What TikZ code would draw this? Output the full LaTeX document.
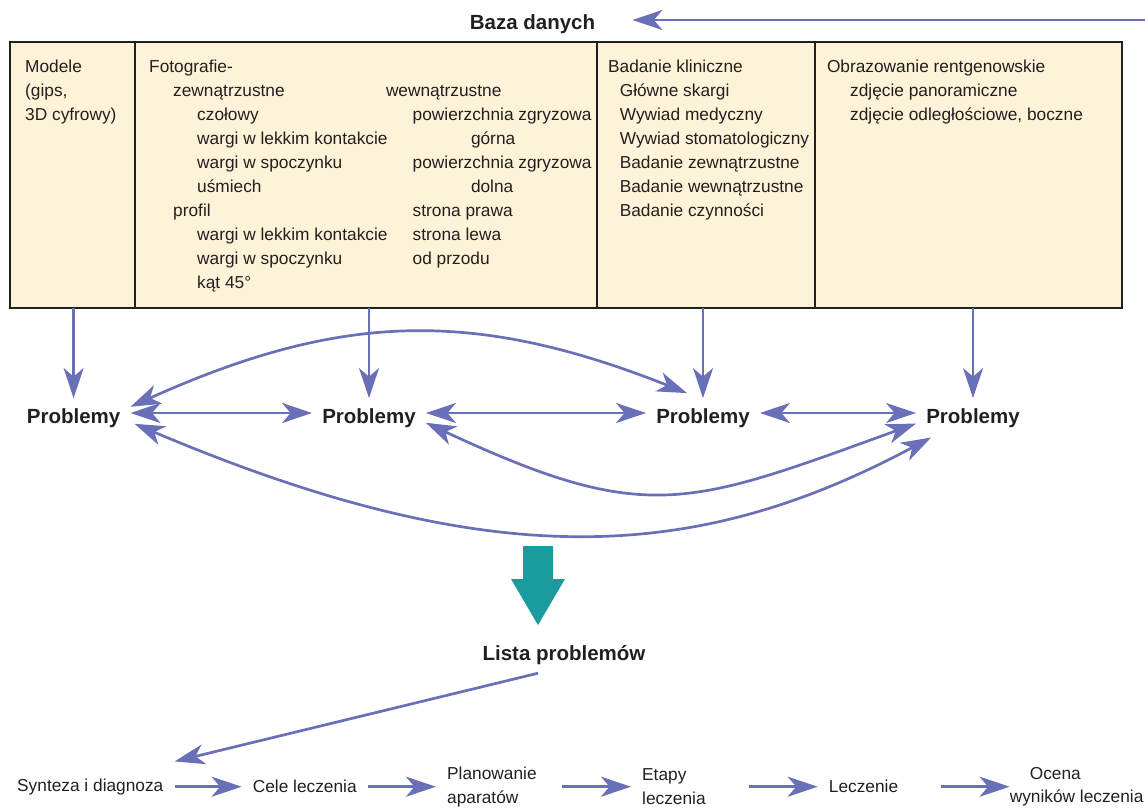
\documentclass[tikz,border=0pt]{standalone}
\usepackage{fontspec}
\setmainfont{Liberation Sans}
\usetikzlibrary{arrows.meta}
\definecolor{arrowblue}{RGB}{106,112,184}
\definecolor{blockteal}{RGB}{26,155,160}
\definecolor{cellfill}{RGB}{253,243,216}
\definecolor{inkgray}{RGB}{35,31,32}
\tikzset{
	tip/.tip={Stealth[length=30pt,width=20pt,inset=8.5pt]},
	arr/.style={draw=arrowblue, line width=2.7pt, -tip},
	darr/.style={draw=arrowblue, line width=2.7pt, tip-tip},
	cell/.style={draw=inkgray, fill=cellfill, line width=2.2pt, anchor=north west, outer sep=0pt, inner sep=0pt, minimum height=266pt},
	celltext/.style={anchor=north west, inner sep=0pt, align=left, font=\fontsize{17.3}{23.9}\selectfont},
	prob/.style={font=\fontsize{20.5}{24}\selectfont\bfseries, text height=15pt, text depth=4pt, inner sep=10pt},
	headline/.style={font=\fontsize{20.5}{24}\selectfont\bfseries, text height=15pt, text depth=4pt, inner sep=0pt},
	stage/.style={font=\fontsize{17.3}{23.9}\selectfont, align=left, anchor=west, inner sep=11pt}
}
\begin{document}
\begin{tikzpicture}[x=1pt, y=-1pt, text=inkgray]
	\useasboundingbox (0,0) rectangle (1145,808);
	% baza danych
	\node[headline] (baza) at (532.5,24.5) {Baza danych};
	\coordinate (dbin) at (1170,20);
	\draw[arr] (dbin) -- ([xshift=37pt,yshift=4.5pt]baza.east);
	% cells
	\node[cell, minimum width=125pt] (modele) at (10,42) {};
	\node[cell, minimum width=462pt] (foto) at (modele.north east) {};
	\node[cell, minimum width=218pt] (klin) at (foto.north east) {};
	\node[cell, minimum width=307pt] (rtg) at (klin.north east) {};
	\node[celltext] (modeletxt) at ([shift={(15,14)}]modele.north west) {\strut Modele\\(gips,\\3D cyfrowy)};
	\node[celltext] (fotoext) at ([shift={(14,14)}]foto.north west) {\strut Fotografie-\\
		\hspace*{24pt}zewnątrzustne\\
		\hspace*{48pt}czołowy\\
		\hspace*{48pt}wargi w lekkim kontakcie\\
		\hspace*{48pt}wargi w spoczynku\\
		\hspace*{48pt}uśmiech\\
		\hspace*{24pt}profil\\
		\hspace*{48pt}wargi w lekkim kontakcie\\
		\hspace*{48pt}wargi w spoczynku\\
		\hspace*{48pt}kąt 45°};
	\node[celltext] (fotoint) at ([shift={(250.8,37.9)}]foto.north west) {\strut wewnątrzustne\\
		\hspace*{26.7pt}powierzchnia zgryzowa\\
		\hspace*{85pt}górna\\
		\hspace*{26.7pt}powierzchnia zgryzowa\\
		\hspace*{85pt}dolna\\
		\hspace*{26.7pt}strona prawa\\
		\hspace*{26.7pt}strona lewa\\
		\hspace*{26.7pt}od przodu};
	\node[celltext] (klintxt) at ([shift={(11,14)}]klin.north west) {\strut Badanie kliniczne\\
		\hspace*{11.6pt}Główne skargi\\
		\hspace*{11.6pt}Wywiad medyczny\\
		\hspace*{11.6pt}Wywiad stomatologiczny\\
		\hspace*{11.6pt}Badanie zewnątrzustne\\
		\hspace*{11.6pt}Badanie wewnątrzustne\\
		\hspace*{11.6pt}Badanie czynności};
	\node[celltext] (rtgtxt) at ([shift={(11.8,14)}]rtg.north west) {\strut Obrazowanie rentgenowskie\\
		\hspace*{23.2pt}zdjęcie panoramiczne\\
		\hspace*{23.2pt}zdjęcie odległościowe, boczne};
	% problemy
	\node[prob] (p1) at (73.6,417.8) {Problemy};
	\node[prob] (p2) at (369,417.8) {Problemy};
	\node[prob] (p3) at (703,417.8) {Problemy};
	\node[prob] (p4) at (973,417.8) {Problemy};
	\draw[arr] (p1 |- modele.south) -- (p1.north);
	\draw[arr] (p2 |- foto.south) -- (p2.north);
	\draw[arr] (p3 |- klin.south) -- (p3.north);
	\draw[arr] (p4 |- rtg.south) -- (p4.north);
	\draw[darr] ([yshift=4.8pt]p1.east) -- ([yshift=4.8pt]p2.west);
	\draw[darr] ([yshift=4.8pt]p2.east) -- ([yshift=4.8pt]p3.west);
	\draw[darr] ([yshift=4.8pt]p3.east) -- ([yshift=4.8pt]p4.west);
	\draw[darr] ([yshift=11pt]p1.east) .. controls +(209,-94) and +(-214,-85) .. ([xshift=-16pt,yshift=5pt]p3.north);
	\draw[darr] ([yshift=-5pt]p2.east) .. controls +(221,103) and +(-229,83) .. ([yshift=-5.7pt]p4.west);
	\draw[darr] ([xshift=4pt,yshift=-6pt]p1.east) .. controls +(359,152) and +(-234,125) .. ([xshift=15pt]p4.south west);
	% block arrow
	\fill[blockteal] (523,546) -- (553,546) -- (553,579) -- (565,579) -- (538,625) -- (511,579) -- (523,579) -- cycle;
	% lista problemow
	\node[headline] (lista) at (564,654.5) {Lista problemów};
	\node[stage] (synteza) at (6,786.7) {Synteza i diagnoza};
	\node[stage] (cele) at (241.6,786.7) {Cele leczenia};
	\node[stage] (plan) at (436,786.7) {Planowanie\\aparatów};
	\node[stage] (etapy) at (631,786.7) {Etapy\\leczenia};
	\node[stage] (leczenie) at (817.7,786.7) {Leczenie};
	\node[stage] (ocena) at (998.6,786.7) {\hspace*{20pt}Ocena\\wyników leczenia};
	\coordinate (dalej) at (1215,786.7);
	\draw[arr] ([xshift=-26pt,yshift=-9pt]lista.south) -- ([yshift=6pt]synteza.north east);
	\draw[arr] (synteza) -- (cele);
	\draw[arr] (cele) -- (plan);
	\draw[arr, shorten <=14pt] (plan) -- (etapy);
	\draw[arr, shorten <=32pt] (etapy) -- (leczenie);
	\draw[arr, shorten <=32pt, shorten >=-11pt] (leczenie) -- (ocena);
	\draw[arr] ([xshift=-4.5pt]ocena.east) -- (dalej);
\end{tikzpicture}
\end{document}
